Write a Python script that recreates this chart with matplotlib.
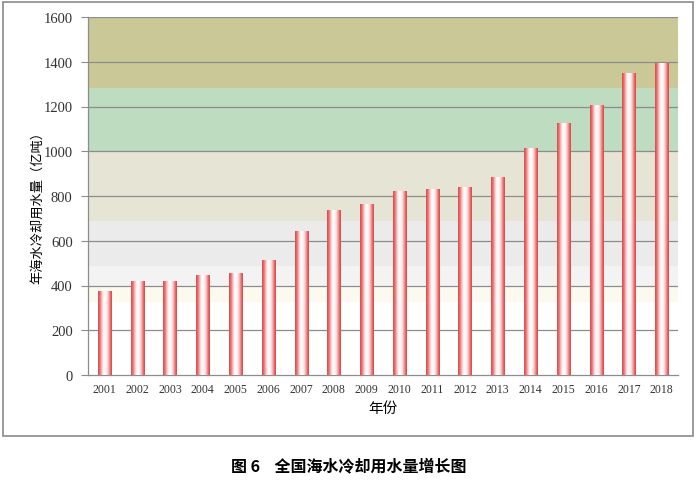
import numpy as np
import matplotlib
matplotlib.use("Agg")
import matplotlib.pyplot as plt
from matplotlib.colors import LinearSegmentedColormap
from matplotlib.patches import Rectangle

plt.rcParams['font.family'] = ['Liberation Serif', 'Noto Sans CJK SC', 'DejaVu Sans']

years = ['2001', '2002', '2003', '2004', '2005', '2006', '2007', '2008', '2009',
         '2010', '2011', '2012', '2013', '2014', '2015', '2016', '2017', '2018']
values = [375, 416, 416, 443, 455, 513, 640, 737, 763,
          822, 828, 840, 882, 1013, 1126, 1203, 1347, 1392]
yticks = [0, 200, 400, 600, 800, 1000, 1200, 1400, 1600]

# background bands (lower, upper, colour)
band_edges = [0, 325, 400, 488, 688, 1000, 1283, 1600]
band_colors = ['#ffffff', '#fcfaee', '#f3f3f3', '#ebebeb', '#e6e5d5', '#bddcc0', '#cbc897']

fig = plt.figure(figsize=(6.98, 4.89), dpi=100)
# outer frame
fig.patches.append(Rectangle((3/698, 1-437/489), 690/698, 434/489, transform=fig.transFigure,
                             fill=False, edgecolor='#8a8a8a', linewidth=1.2))

ax = fig.add_axes([88/698, 1-376/489, 590/698, 358/489])

for lo, hi, c in zip(band_edges[:-1], band_edges[1:], band_colors):
    ax.axhspan(lo, hi, color=c, zorder=0, linewidth=0)

for t in yticks[1:]:
    ax.axhline(t, color='#8c8c8c', linewidth=0.9, zorder=1)

cmap = LinearSegmentedColormap.from_list('cyl', [
    (0.0, '#d94c4c'), (0.12, '#e86a6a'), (0.25, '#f6b0b0'), (0.38, '#fff4f4'),
    (0.5, '#ffffff'), (0.65, '#fde6e6'), (0.8, '#f5a0a0'), (0.9, '#e56666'), (1.0, '#d44848')])
grad = np.linspace(0, 1, 64).reshape(1, -1)

x = np.arange(len(years))
w = 0.40
for xi, v in zip(x, values):
    ax.imshow(grad, cmap=cmap, extent=(xi - w/2, xi + w/2, 0, v), aspect='auto',
              zorder=3, interpolation='bilinear')

ax.set_xlim(-0.5, len(years) - 0.5)
ax.set_ylim(0, 1600)
ax.set_xticks(x)
ax.set_xticklabels(years, fontsize=8.5, color='#333333')
ax.set_yticks(yticks)
ax.set_yticklabels([str(t) for t in yticks], fontsize=10.5, color='#333333')
ax.tick_params(axis='x', length=0, pad=6)
ax.tick_params(axis='y', length=5, color='#8c8c8c', pad=6)

for s in ['top', 'right']:
    ax.spines[s].set_visible(False)
for s in ['left', 'bottom']:
    ax.spines[s].set_color('#8c8c8c')
    ax.spines[s].set_linewidth(0.9)

ax.set_xlabel('年份', fontsize=10.5, family=['Noto Sans CJK SC'], labelpad=4)
ax.set_ylabel('年海水冷却用水量（亿吨）', fontsize=9.5, family=['Noto Sans CJK SC'], labelpad=0)
ax.yaxis.set_label_coords(-(88 - 44) / 590, 0.48)

fig.text(0.5, 1-466/489, '图 6    全国海水冷却用水量增长图', ha='center', va='center',
         fontsize=11.5, fontweight='bold', family=['Noto Sans CJK SC', 'DejaVu Sans'])

fig.savefig('out.png', dpi=100)
